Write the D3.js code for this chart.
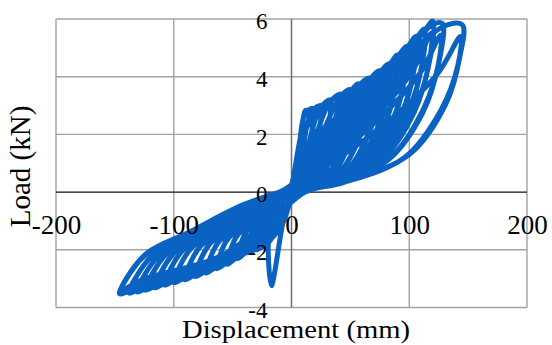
<!DOCTYPE html>
<html>
<head>
<meta charset="utf-8">
<script src="https://cdn.jsdelivr.net/npm/d3@7"></script>
<style>
  body { margin: 0; background: #fff; }
  svg text { font-family: "Liberation Serif", "DejaVu Serif", serif !important; }
</style>
</head>
<body>
<div id="chart"></div>
<script>
// axis ticks
const dispTicks = [-200, -100, 0, 100, 200];
const loadTicks = [-4, -2, 0, 2, 4, 6];

// first cycle, with the two sharp spikes
const firstCycle = [
  [0, 0], [4, 1.1], [8, 2.0], [12, 2.84], [16, 2.4], [19.5, 2.0], [17, 1.0], [12, 0.4],
  [5, 0], [-3, -0.5], [-10, -0.95], [-18, -1.26], [-17, -3.24], [-7, -1.0], [-3, -0.45], [-1.5, 0]
];

// first cycle at each amplitude: loading, peak, unloading (push) then loading, peak, unloading (pull)
const cycles = [
  [[4.8, 1.0], [11.5, 2.72], [18, 2.9], [17.7, 2.32], [15.8, 1.45], [11.7, 0.58], [5.4, 0.17], [1.4, 0],
   [-5, -0.75], [-15, -1.5], [-22, -1.85], [-21.3, -1.63], [-18.7, -1.15], [-13.2, -0.74], [-6.6, -0.26], [-1.5, 0]],
  [[7.2, 1.02], [17, 2.78], [25, 3.0], [24.6, 2.4], [22, 1.5], [16.3, 0.6], [7.5, 0.18], [2, 0],
   [-7.7, -1.11], [-21, -1.77], [-30, -2.0], [-29.1, -1.76], [-25.5, -1.24], [-18, -0.8], [-9, -0.28], [-2.1, 0]],
  [[10, 1.05], [24, 2.88], [33, 3.2], [32.5, 2.56], [29, 1.6], [21.5, 0.64], [9.9, 0.19], [2.6, 0],
   [-10.5, -1.2], [-29, -1.92], [-38, -2.1], [-36.9, -1.85], [-32.3, -1.3], [-22.8, -0.84], [-11.4, -0.29], [-2.7, 0]],
  [[13.2, 1.12], [32, 3.08], [42, 3.4], [41.4, 2.72], [37, 1.7], [27.3, 0.68], [12.6, 0.2], [3.4, 0],
   [-13.3, -1.26], [-37, -2.02], [-46, -2.3], [-44.6, -2.02], [-39.1, -1.43], [-27.6, -0.92], [-13.8, -0.32], [-3.2, 0]],
  [[16.8, 1.19], [41, 3.28], [50, 3.55], [49.3, 2.84], [44, 1.78], [32.5, 0.71], [15, 0.21], [4, 0],
   [-16.1, -1.38], [-45, -2.22], [-55, -2.5], [-53.4, -2.2], [-46.8, -1.55], [-33, -1.0], [-16.5, -0.35], [-3.9, 0]],
  [[20, 1.24], [49, 3.43], [57, 3.75], [56.1, 3.0], [50.2, 1.88], [37, 0.75], [17.1, 0.23], [4.6, 0],
   [-19.3, -1.5], [-54, -2.42], [-64, -2.65], [-62.1, -2.33], [-54.4, -1.64], [-38.4, -1.06], [-19.2, -0.37], [-4.5, 0]],
  [[22.8, 1.31], [56, 3.63], [66, 3.95], [65, 3.16], [58.1, 1.98], [42.9, 0.79], [19.8, 0.24], [5.3, 0],
   [-22.4, -1.59], [-63, -2.57], [-73, -2.8], [-70.8, -2.46], [-62, -1.74], [-43.8, -1.12], [-21.9, -0.39], [-5.1, 0]],
  [[26.4, 1.38], [65, 3.83], [75, 4.2], [73.9, 3.36], [66, 2.1], [48.8, 0.84], [22.5, 0.25], [6, 0],
   [-25.6, -1.68], [-72, -2.72], [-82, -2.92], [-79.5, -2.57], [-69.7, -1.81], [-49.2, -1.17], [-24.6, -0.41], [-5.7, 0]],
  [[30, 1.47], [74, 4.08], [83, 4.45], [81.8, 3.56], [73, 2.23], [54, 0.89], [24.9, 0.27], [6.6, 0],
   [-28.7, -1.75], [-81, -2.84], [-91, -3.03], [-88.3, -2.67], [-77.4, -1.88], [-54.6, -1.21], [-27.3, -0.42], [-6.4, 0]],
  [[33.2, 1.56], [82, 4.33], [90, 4.75], [88.7, 3.8], [79.2, 2.38], [58.5, 0.95], [27, 0.29], [7.2, 0],
   [-31.9, -1.82], [-90, -2.95], [-100, -3.13], [-97, -2.75], [-85, -1.94], [-60, -1.25], [-30, -0.44], [-7, 0]],
  [[36, 1.66], [89, 4.63], [98, 5.05], [96.5, 4.04], [86.2, 2.53], [63.7, 1.01], [29.4, 0.3], [7.8, 0],
   [-35, -1.88], [-99, -3.05], [-108, -3.22], [-104.8, -2.83], [-91.8, -2.0], [-64.8, -1.29], [-32.4, -0.45], [-7.6, 0]],
  [[39.2, 1.77], [97, 4.93], [106, 5.4], [104.4, 4.32], [93.3, 2.7], [68.9, 1.08], [31.8, 0.32], [8.5, 0],
   [-37.8, -1.93], [-107, -3.14], [-116, -3.32], [-112.5, -2.92], [-98.6, -2.06], [-69.6, -1.33], [-34.8, -0.46], [-8.1, 0]],
  [[42.4, 1.89], [105, 5.28], [113, 5.65], [111.3, 4.52], [99.4, 2.83], [73.5, 1.13], [33.9, 0.34], [9, 0],
   [-40.6, -1.99], [-115, -3.24], [-124, -3.4], [-120.3, -2.99], [-105.4, -2.11], [-74.4, -1.36], [-37.2, -0.48], [-8.7, 0]],
  [[45.2, 1.98], [112, 5.53], [120, 5.93], [118.2, 4.74], [105.6, 2.97], [78, 1.19], [36, 0.36], [9.6, 0],
   [-43.4, -2.04], [-123, -3.32], [-131, -3.46], [-127.1, -3.04], [-111.4, -2.15], [-78.6, -1.38], [-39.3, -0.48], [-9.2, 0]],
  [[48, 2.08], [119, 5.78], [128, 5.85], [126.1, 4.68], [112.6, 2.93], [83.2, 1.17], [38.4, 0.35], [10.2, 0],
   [-45.9, -2.08], [-130, -3.38], [-138, -3.5], [-133.9, -3.08], [-117.3, -2.17], [-82.8, -1.4], [-41.4, -0.49], [-9.7, 0]],
  [[51.2, 2.05], [127, 5.7], [145, 5.8], [143, 4.7], [131, 3.05], [100, 1.3], [43.5, 0.35], [11.6, 0],
   [-48.3, -2.1], [-137, -3.42], [-146, -3.52], [-141.6, -3.1], [-124.1, -2.18], [-87.6, -1.41], [-43.8, -0.49], [-10.2, 0]]
];

// repeated cycle at the same amplitude (from the 42 mm step on), slightly weaker
const repeatCycles = [
  [[18.9, 1.12], [35.7, 2.38], [41.6, 3.16], [41, 2.58], [36.5, 1.6], [26.9, 0.65], [12.6, 0.19], [3.4, 0],
   [-18.4, -1.43], [-39.1, -1.96], [-45.5, -2.21], [-44.2, -1.96], [-38.6, -1.38], [-27.1, -0.9], [-13.3, -0.3], [-3.2, 0]],
  [[22.5, 1.17], [42.5, 2.49], [49.5, 3.3], [48.8, 2.7], [43.5, 1.67], [32, 0.67], [15, 0.2], [4, 0],
   [-22, -1.55], [-46.8, -2.13], [-54.5, -2.4], [-52.8, -2.13], [-46.2, -1.5], [-32.5, -0.98], [-16, -0.33], [-3.9, 0]],
  [[25.7, 1.24], [48.5, 2.63], [56.4, 3.49], [55.6, 2.85], [49.6, 1.76], [36.5, 0.71], [17.1, 0.21], [4.6, 0],
   [-25.6, -1.64], [-54.4, -2.25], [-63.4, -2.54], [-61.4, -2.25], [-53.8, -1.59], [-37.8, -1.03], [-18.6, -0.34], [-4.5, 0]],
  [[29.7, 1.3], [56.1, 2.77], [65.3, 3.67], [64.4, 3.0], [57.4, 1.86], [42.2, 0.75], [19.8, 0.22], [5.3, 0],
   [-29.2, -1.74], [-62, -2.38], [-72.3, -2.69], [-70, -2.38], [-61.3, -1.68], [-43, -1.09], [-21.2, -0.36], [-5.1, 0]],
  [[33.8, 1.39], [63.8, 2.94], [74.3, 3.91], [73.1, 3.19], [65.3, 1.97], [48, 0.8], [22.5, 0.23], [6, 0],
   [-32.8, -1.81], [-69.7, -2.48], [-81.2, -2.8], [-78.7, -2.48], [-68.9, -1.75], [-48.4, -1.14], [-23.8, -0.38], [-5.7, 0]],
  [[37.4, 1.47], [70.6, 3.12], [82.2, 4.14], [80.9, 3.38], [72.2, 2.09], [53.1, 0.85], [24.9, 0.24], [6.6, 0],
   [-36.4, -1.88], [-77.4, -2.58], [-90.1, -2.91], [-87.4, -2.58], [-76.4, -1.82], [-53.7, -1.18], [-26.4, -0.39], [-6.4, 0]],
  [[40.5, 1.57], [76.5, 3.33], [89.1, 4.42], [87.8, 3.61], [78.3, 2.23], [57.6, 0.9], [27, 0.26], [7.2, 0],
   [-40, -1.94], [-85, -2.66], [-99, -3.0], [-96, -2.66], [-84, -1.88], [-59, -1.22], [-29, -0.41], [-7, 0]],
  [[44.1, 1.67], [83.3, 3.54], [97, 4.7], [95.6, 3.84], [85.3, 2.37], [62.7, 0.96], [29.4, 0.28], [7.8, 0],
   [-43.2, -2.0], [-91.8, -2.74], [-106.9, -3.09], [-103.7, -2.74], [-90.7, -1.93], [-63.7, -1.26], [-31.3, -0.42], [-7.6, 0]],
  [[47.7, 1.78], [90.1, 3.78], [104.9, 5.02], [103.4, 4.1], [92.2, 2.54], [67.8, 1.03], [31.8, 0.3], [8.5, 0],
   [-46.4, -2.06], [-98.6, -2.82], [-114.8, -3.19], [-111.4, -2.82], [-97.4, -1.99], [-68.4, -1.29], [-33.6, -0.43], [-8.1, 0]],
  [[50.9, 1.86], [96.1, 3.96], [111.9, 5.25], [110.2, 4.29], [98.3, 2.66], [72.3, 1.07], [33.9, 0.31], [9, 0],
   [-49.6, -2.11], [-105.4, -2.89], [-122.8, -3.26], [-119, -2.89], [-104.2, -2.04], [-73.2, -1.33], [-36, -0.44], [-8.7, 0]],
  [[54, 1.96], [102, 4.15], [118.8, 5.51], [117, 4.51], [104.4, 2.79], [76.8, 1.13], [36, 0.33], [9.6, 0],
   [-52.4, -2.15], [-111.4, -2.94], [-129.7, -3.32], [-125.8, -2.94], [-110, -2.08], [-77.3, -1.35], [-38, -0.45], [-9.2, 0]],
  [[57.6, 1.93], [108.8, 4.1], [126.7, 5.44], [124.8, 4.45], [111.4, 2.75], [81.9, 1.11], [38.4, 0.32], [10.2, 0],
   [-55.2, -2.17], [-117.3, -2.98], [-136.6, -3.36], [-132.5, -2.98], [-115.9, -2.1], [-81.4, -1.37], [-40, -0.46], [-9.7, 0]],
  [[65.3, 1.91], [123.3, 4.06], [143.6, 5.39], [141.4, 4.41], [127, 2.85], [96, 1.2], [43.5, 0.32], [11.6, 0],
   [-58.4, -2.18], [-124.1, -2.99], [-144.5, -3.38], [-140.2, -2.99], [-122.6, -2.11], [-86.1, -1.37], [-42.3, -0.46], [-10.2, 0]]
];

const W = 552, H = 345;
const margin = { top: 19, right: 25, bottom: 37.5, left: 56 };

const svg = d3.select('#chart').append('svg')
    .attr('width', W)
    .attr('height', H);

const x = d3.scaleLinear().domain([-200, 200]).range([margin.left, W - margin.right]);
const y = d3.scaleLinear().domain([-4, 6]).range([H - margin.bottom, margin.top]);

// grid
const grid = svg.append('g');
grid.selectAll('line.h')
    .data(loadTicks.filter(d => d !== 0))
    .join('line')
    .attr('x1', x(-200)).attr('x2', x(200))
    .attr('y1', d => y(d)).attr('y2', d => y(d))
    .attr('stroke', '#a3a3a3').attr('stroke-width', 1.4);
grid.selectAll('line.v')
    .data(dispTicks.filter(d => d !== 0))
    .join('line')
    .attr('x1', d => x(d)).attr('x2', d => x(d))
    .attr('y1', y(-4)).attr('y2', y(6))
    .attr('stroke', '#a3a3a3').attr('stroke-width', 1.4);

// zero lines
svg.append('line')
    .attr('x1', x(0)).attr('x2', x(0)).attr('y1', y(-4)).attr('y2', y(6))
    .attr('stroke', '#6e6e6e').attr('stroke-width', 1.5);
svg.append('line')
    .attr('x1', x(-200)).attr('x2', x(200)).attr('y1', y(0)).attr('y2', y(0))
    .attr('stroke', '#111').attr('stroke-width', 1.3);

// hysteresis curve: each amplitude, then its repeat
const points = firstCycle.concat(
    ...d3.merge(cycles.map((c, i) => i >= 3 ? [c, repeatCycles[i - 3]] : [c]))
);
const line = d3.line()
    .x(d => x(d[0]))
    .y(d => y(d[1]))
    .curve(d3.curveCatmullRom.alpha(0.5));

svg.append('path')
    .datum(points)
    .attr('d', line)
    .attr('fill', 'none')
    .attr('stroke', '#0a62c2')
    .attr('stroke-width', 5)
    .attr('stroke-linejoin', 'round')
    .attr('stroke-linecap', 'round');

// tick labels, drawn through the axes at the zero lines
const xAxis = svg.append('g')
    .attr('transform', `translate(0,${y(0)})`)
    .call(d3.axisBottom(x).tickValues(dispTicks).tickSize(0).tickPadding(23).tickFormat(d => String(d)))
    .attr('font-size', 27);
xAxis.select('.domain').remove();
xAxis.selectAll('text').attr('fill', '#000');

const yAxis = svg.append('g')
    .attr('transform', `translate(${x(0)},0)`)
    .call(d3.axisLeft(y).tickValues(loadTicks).tickSize(0).tickPadding(24).tickFormat(d => String(d)))
    .attr('font-size', 23);
yAxis.select('.domain').remove();
yAxis.selectAll('text').attr('fill', '#000').attr('dy', '0.43em');

// axis titles
svg.append('text')
    .attr('x', 296).attr('y', 338)
    .attr('text-anchor', 'middle')
    .attr('font-size', 26)
    .attr('textLength', 228)
    .attr('lengthAdjust', 'spacingAndGlyphs')
    .text('Displacement  (mm)');

svg.append('text')
    .attr('transform', 'translate(30,166.5) rotate(-90)')
    .attr('text-anchor', 'middle')
    .attr('font-size', 29)
    .text('Load (kN)');
</script>
</body>
</html>
